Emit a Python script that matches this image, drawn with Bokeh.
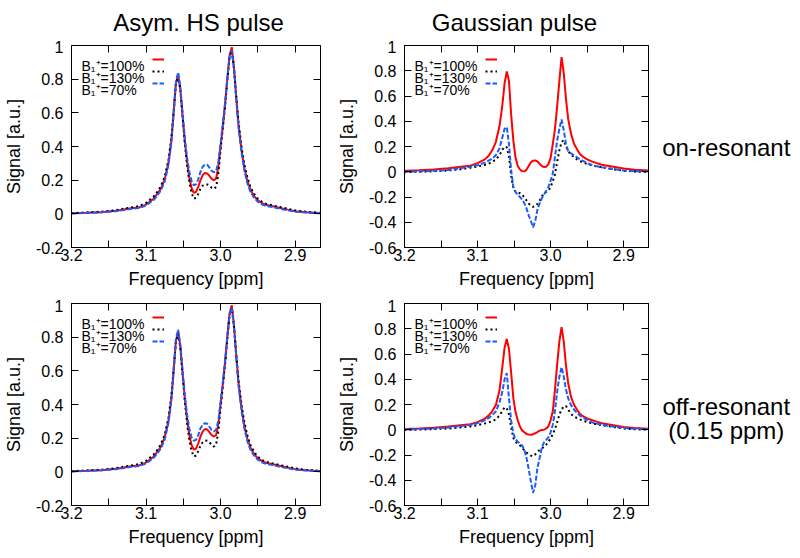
from bokeh.plotting import figure
from bokeh.layouts import row, column
from bokeh.models import (Range1d, FixedTicker, PrintfTickFormatter, LinearAxis,
                          Label, Legend, LegendItem)
from bokeh.embed import file_html
from bokeh.resources import INLINE

# ---------------- data ----------------
freq_ppm = [3.200, 3.180, 3.160, 3.140, 3.120, 3.110, 3.100, 3.090, 3.085, 3.080,
            3.075, 3.070, 3.066, 3.063, 3.060, 3.057, 3.054, 3.051, 3.048, 3.045,
            3.042, 3.039, 3.036, 3.033, 3.030, 3.027, 3.024, 3.021, 3.018, 3.015,
            3.012, 3.009, 3.006, 3.003, 3.000, 2.997, 2.994, 2.991, 2.988, 2.985,
            2.982, 2.979, 2.976, 2.972, 2.968, 2.964, 2.960, 2.955, 2.950, 2.944,
            2.938, 2.930, 2.920, 2.910, 2.900, 2.885, 2.866]

# Asym. HS pulse, on-resonant
hs_on_100 = [0.003, 0.006, 0.010, 0.018, 0.033, 0.037, 0.055, 0.090, 0.118, 0.150,
             0.205, 0.300, 0.435, 0.600, 0.770, 0.830, 0.740, 0.580, 0.430, 0.310,
             0.215, 0.155, 0.125, 0.130, 0.160, 0.200, 0.230, 0.242, 0.240, 0.225,
             0.208, 0.200, 0.210, 0.280, 0.400, 0.520, 0.650, 0.800, 0.940, 0.990,
             0.870, 0.690, 0.530, 0.380, 0.270, 0.195, 0.145, 0.105, 0.080, 0.062,
             0.052, 0.045, 0.035, 0.025, 0.016, 0.010, 0.004]
hs_on_130 = [0.004, 0.008, 0.013, 0.022, 0.038, 0.045, 0.065, 0.102, 0.130, 0.165,
             0.220, 0.320, 0.455, 0.610, 0.770, 0.820, 0.735, 0.580, 0.420, 0.290,
             0.190, 0.125, 0.090, 0.095, 0.118, 0.150, 0.168, 0.175, 0.175, 0.168,
             0.155, 0.148, 0.160, 0.240, 0.380, 0.510, 0.640, 0.790, 0.930, 0.970,
             0.860, 0.700, 0.545, 0.400, 0.290, 0.215, 0.160, 0.118, 0.090, 0.070,
             0.058, 0.050, 0.040, 0.030, 0.020, 0.012, 0.006]
hs_on_70 = [0.002, 0.005, 0.009, 0.016, 0.030, 0.034, 0.050, 0.082, 0.108, 0.140,
            0.192, 0.290, 0.425, 0.600, 0.780, 0.840, 0.750, 0.600, 0.450, 0.335,
            0.250, 0.195, 0.170, 0.175, 0.205, 0.250, 0.280, 0.293, 0.292, 0.275,
            0.255, 0.247, 0.255, 0.310, 0.420, 0.535, 0.660, 0.805, 0.935, 0.970,
            0.860, 0.680, 0.515, 0.365, 0.255, 0.180, 0.132, 0.095, 0.072, 0.055,
            0.046, 0.040, 0.030, 0.021, 0.013, 0.008, 0.003]

# Asym. HS pulse, off-resonant
hs_off_100 = [0.003, 0.006, 0.010, 0.018, 0.033, 0.037, 0.055, 0.090, 0.118, 0.150,
              0.205, 0.300, 0.435, 0.600, 0.775, 0.834, 0.745, 0.585, 0.435, 0.315,
              0.220, 0.160, 0.132, 0.138, 0.168, 0.210, 0.240, 0.254, 0.252, 0.236,
              0.218, 0.210, 0.218, 0.285, 0.400, 0.520, 0.650, 0.800, 0.940, 0.990,
              0.870, 0.690, 0.530, 0.380, 0.270, 0.195, 0.145, 0.105, 0.080, 0.062,
              0.052, 0.045, 0.035, 0.025, 0.016, 0.010, 0.004]
hs_off_130 = [0.004, 0.008, 0.013, 0.022, 0.038, 0.045, 0.065, 0.102, 0.130, 0.165,
              0.220, 0.320, 0.455, 0.610, 0.770, 0.820, 0.735, 0.580, 0.420, 0.290,
              0.190, 0.125, 0.091, 0.097, 0.122, 0.155, 0.176, 0.186, 0.185, 0.176,
              0.160, 0.150, 0.162, 0.240, 0.380, 0.510, 0.640, 0.790, 0.930, 0.975,
              0.860, 0.700, 0.545, 0.400, 0.290, 0.215, 0.160, 0.118, 0.090, 0.070,
              0.058, 0.050, 0.040, 0.030, 0.020, 0.012, 0.006]
hs_off_70 = [0.002, 0.005, 0.009, 0.016, 0.030, 0.034, 0.050, 0.082, 0.108, 0.140,
             0.192, 0.290, 0.425, 0.600, 0.785, 0.845, 0.755, 0.605, 0.455, 0.340,
             0.258, 0.205, 0.185, 0.190, 0.218, 0.258, 0.280, 0.289, 0.286, 0.268,
             0.248, 0.240, 0.250, 0.305, 0.420, 0.535, 0.660, 0.805, 0.935, 0.975,
             0.860, 0.680, 0.515, 0.365, 0.255, 0.180, 0.132, 0.095, 0.072, 0.055,
             0.046, 0.040, 0.030, 0.021, 0.013, 0.008, 0.003]

# Gaussian pulse, on-resonant
gauss_on_100 = [0.008, 0.012, 0.018, 0.028, 0.042, 0.048, 0.068, 0.098, 0.125, 0.170,
                0.235, 0.360, 0.530, 0.700, 0.794, 0.720, 0.450, 0.248, 0.110, 0.045,
                0.018, 0.005, 0.003, 0.015, 0.045, 0.075, 0.088, 0.090, 0.082, 0.062,
                0.045, 0.037, 0.040, 0.060, 0.110, 0.220, 0.340, 0.520, 0.720, 0.908,
                0.780, 0.580, 0.420, 0.300, 0.222, 0.180, 0.140, 0.115, 0.098, 0.082,
                0.070, 0.055, 0.045, 0.035, 0.025, 0.016, 0.010]
gauss_on_130 = [-0.003, 0.000, 0.004, 0.010, 0.022, 0.032, 0.042, 0.054, 0.064, 0.077,
                0.098, 0.130, 0.175, 0.198, 0.195, 0.120, -0.030, -0.134, -0.158, -0.165,
                -0.170, -0.178, -0.205, -0.226, -0.250, -0.270, -0.279, -0.270, -0.255, -0.230,
                -0.195, -0.170, -0.160, -0.150, -0.120, -0.075, -0.020, 0.080, 0.170, 0.235,
                0.250, 0.200, 0.165, 0.135, 0.115, 0.098, 0.085, 0.072, 0.062, 0.052,
                0.044, 0.036, 0.026, 0.016, 0.008, 0.002, -0.002]
gauss_on_70 = [0.000, 0.003, 0.007, 0.014, 0.032, 0.040, 0.052, 0.072, 0.088, 0.104,
               0.130, 0.185, 0.274, 0.340, 0.354, 0.220, 0.010, -0.120, -0.160, -0.185,
               -0.200, -0.220, -0.248, -0.290, -0.345, -0.390, -0.440, -0.390, -0.300, -0.250,
               -0.210, -0.180, -0.150, -0.120, -0.070, -0.015, 0.120, 0.248, 0.340, 0.414,
               0.330, 0.220, 0.165, 0.145, 0.130, 0.115, 0.100, 0.085, 0.068, 0.055,
               0.045, 0.035, 0.025, 0.018, 0.010, 0.005, 0.002]

# Gaussian pulse, off-resonant (0.15 ppm)
gauss_off_100 = [0.006, 0.010, 0.016, 0.025, 0.038, 0.044, 0.060, 0.088, 0.112, 0.146,
                 0.195, 0.310, 0.500, 0.650, 0.720, 0.640, 0.450, 0.250, 0.140, 0.075,
                 0.025, -0.005, -0.020, -0.033, -0.038, -0.040, -0.035, -0.028, -0.018, -0.007,
                 -0.002, 0.000, 0.010, 0.028, 0.075, 0.146, 0.320, 0.520, 0.700, 0.813,
                 0.700, 0.510, 0.370, 0.260, 0.198, 0.160, 0.126, 0.105, 0.090, 0.077,
                 0.066, 0.052, 0.042, 0.032, 0.022, 0.014, 0.008]
gauss_off_130 = [-0.002, 0.001, 0.005, 0.010, 0.020, 0.026, 0.036, 0.050, 0.058, 0.067,
                 0.082, 0.112, 0.150, 0.178, 0.170, 0.120, 0.020, -0.065, -0.095, -0.112,
                 -0.125, -0.140, -0.165, -0.180, -0.195, -0.205, -0.210, -0.195, -0.175, -0.160,
                 -0.148, -0.135, -0.118, -0.095, -0.070, -0.035, 0.005, 0.060, 0.120, 0.160,
                 0.185, 0.188, 0.160, 0.125, 0.105, 0.093, 0.082, 0.070, 0.062, 0.052,
                 0.045, 0.036, 0.027, 0.018, 0.010, 0.004, 0.000]
gauss_off_70 = [0.002, 0.005, 0.010, 0.018, 0.032, 0.038, 0.052, 0.075, 0.092, 0.115,
                0.145, 0.215, 0.304, 0.400, 0.449, 0.250, 0.070, -0.030, -0.075, -0.095,
                -0.108, -0.125, -0.160, -0.223, -0.310, -0.410, -0.500, -0.440, -0.300, -0.223,
                -0.140, -0.100, -0.080, -0.060, -0.020, 0.040, 0.150, 0.304, 0.420, 0.496,
                0.420, 0.320, 0.250, 0.195, 0.160, 0.135, 0.112, 0.095, 0.076, 0.060,
                0.050, 0.040, 0.030, 0.022, 0.014, 0.008, 0.004]

legend_labels = ["B\u2081\u207a=100%", "B\u2081\u207a=130%", "B\u2081\u207a=70%"]
x_ticks = [3.2, 3.1, 3.0, 2.9]
x_minor_ticks = [3.15, 3.05, 2.95]
hs_y_ticks = [-0.2, 0, 0.2, 0.4, 0.6, 0.8, 1]
gauss_y_ticks = [-0.6, -0.4, -0.2, 0, 0.2, 0.4, 0.6, 0.8, 1]
col_titles = ["Asym. HS pulse", "Gaussian pulse"]
row_labels = [["on-resonant"], ["off-resonant", "(0.15 ppm)"]]

# ---------------- styling ----------------
FONT = "Liberation Sans"
FRAME_H = 202
COLORS = ["#ff0000", "#000000", "#1a5cff"]
DASHES = ["solid", "2 3", "5 2"]


def style_axis(ax, show_labels=True):
    ax.major_tick_in = 7
    ax.major_tick_out = 0
    ax.minor_tick_in = 7
    ax.minor_tick_out = 0
    ax.axis_line_color = "black"
    ax.major_tick_line_color = "black"
    ax.minor_tick_line_color = "black"
    ax.major_label_text_font = FONT
    ax.axis_label_text_font = FONT
    ax.axis_label_text_font_size = "18px"
    ax.axis_label_text_font_style = "normal"
    ax.axis_label_text_color = "black"
    if show_labels:
        ax.major_label_text_font_size = "16px"
        ax.major_label_text_color = "black"
    else:
        ax.major_label_text_font_size = "1px"
        ax.major_label_text_color = None
        ax.major_label_standoff = 0


def blank_figure(width, height):
    p = figure(width=width, height=height, x_range=Range1d(0, 1), y_range=Range1d(0, 1),
               x_axis_type=None, y_axis_type=None,
               output_backend="svg", toolbar_location=None,
               min_border_left=0, min_border_right=0, min_border_top=0, min_border_bottom=0)
    p.grid.visible = False
    p.outline_line_color = None
    p.background_fill_color = "white"
    p.border_fill_color = "white"
    return p


def make_panel(series, y_lo, y_hi, y_ticks, fw, bl, br, bt, bb):
    p = figure(width=bl + fw + br, height=bt + FRAME_H + bb,
               x_range=Range1d(3.2, 2.866), y_range=Range1d(y_lo, y_hi),
               output_backend="svg", toolbar_location=None,
               min_border_left=bl, min_border_right=br,
               min_border_top=bt, min_border_bottom=bb,
               x_axis_label="Frequency [ppm]", y_axis_label="Signal [a.u.]")
    p.xgrid.visible = False
    p.ygrid.visible = False
    p.outline_line_color = "black"
    p.outline_line_alpha = 1
    p.outline_line_width = 1
    p.background_fill_color = "white"
    p.border_fill_color = "white"

    xa = p.xaxis[0]
    ya = p.yaxis[0]
    xa.ticker = FixedTicker(ticks=x_ticks, minor_ticks=x_minor_ticks)
    xa.formatter = PrintfTickFormatter(format="%.1f")
    ya.ticker = FixedTicker(ticks=y_ticks, minor_ticks=[])
    ya.formatter = PrintfTickFormatter(format="%g")
    style_axis(xa)
    style_axis(ya)
    xa.major_label_standoff = 1
    xa.axis_label_standoff = 5
    ya.major_label_standoff = 8
    ya.axis_label_standoff = 9

    # mirrored ticks (top / right), labels not drawn
    top = LinearAxis(ticker=FixedTicker(ticks=x_ticks, minor_ticks=x_minor_ticks))
    style_axis(top, show_labels=False)
    p.add_layout(top, "above")
    right = LinearAxis(ticker=FixedTicker(ticks=y_ticks, minor_ticks=[]))
    style_axis(right, show_labels=False)
    p.add_layout(right, "right")

    rends = []
    for ys, c, d in zip(series, COLORS, DASHES):
        r = p.line(freq_ppm, ys, line_color=c, line_width=2, line_dash=d)
        rends.append(r)

    # legend: texts on the left, line samples on the right (gnuplot style)
    for i, lab in enumerate(legend_labels):
        p.add_layout(Label(x=10, y=182 - 12 * i, x_units="screen", y_units="screen",
                           text=lab, text_font=FONT, text_font_size="14px",
                           text_color="black", text_baseline="alphabetic"))
    legend = Legend(items=[LegendItem(label=" ", renderers=[r]) for r in rends],
                    location=(81, 158), orientation="vertical",
                    glyph_width=12, glyph_height=12, label_height=12, label_width=1,
                    label_standoff=0, spacing=0, padding=0, margin=0,
                    border_line_alpha=0, background_fill_alpha=0,
                    label_text_font_size="8px", label_text_color=None)
    p.add_layout(legend)
    return p


def add_text(p, txt, x, y, align="center"):
    p.add_layout(Label(x=x, y=y, x_units="screen", y_units="screen",
                       text=txt, text_font=FONT, text_font_size="24px",
                       text_color="black", text_align=align,
                       text_baseline="alphabetic"))


# header with the two column titles
header = blank_figure(798, 40)
add_text(header, col_titles[0], 198, 18)
add_text(header, col_titles[1], 514, 18)

tl = make_panel([hs_on_100, hs_on_130, hs_on_70], -0.2, 1, hs_y_ticks,
                249, 71, 13, 5, 52)
tr = make_panel([gauss_on_100, gauss_on_130, gauss_on_70], -0.6, 1, gauss_y_ticks,
                248, 67, 14, 5, 52)
# (frames of plots in a row are aligned, so these y are measured from the panel frame bottom)
side1 = blank_figure(136, 259)
add_text(side1, row_labels[0][0], 63.8, 100)

bl = make_panel([hs_off_100, hs_off_130, hs_off_70], -0.2, 1, hs_y_ticks,
                249, 71, 13, 4, 50)
br = make_panel([gauss_off_100, gauss_off_130, gauss_off_70], -0.6, 1, gauss_y_ticks,
                248, 67, 14, 4, 50)
side2 = blank_figure(136, 256)
add_text(side2, row_labels[1][0], 63.8, 98.7)
add_text(side2, row_labels[1][1], 63.8, 75.3)

layout = column(header, row(tl, tr, side1), row(bl, br, side2))

with open("out.html", "w") as f:
    f.write(file_html(layout, INLINE))
